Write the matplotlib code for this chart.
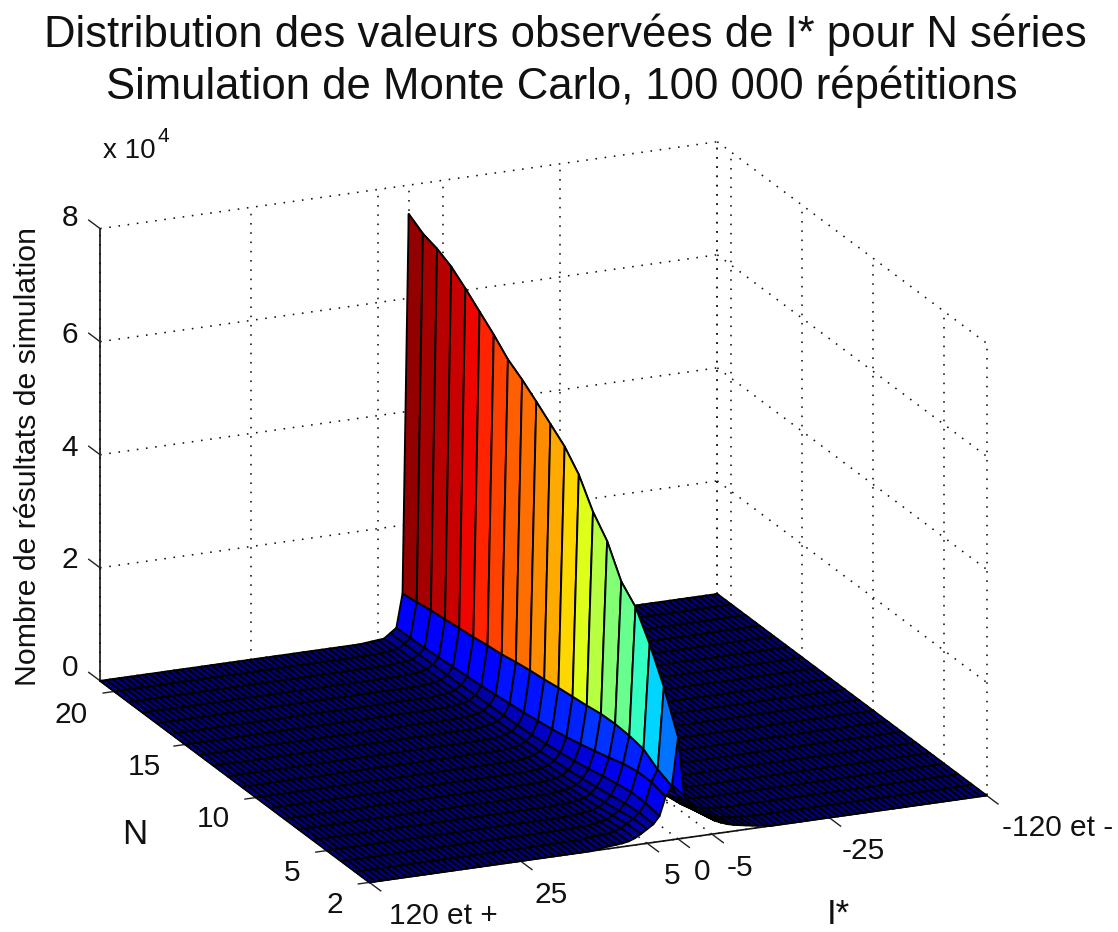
import numpy as np
import matplotlib
matplotlib.use("Agg")
import matplotlib.pyplot as plt
from mpl_toolkits.mplot3d import proj3d

plt.rcParams['font.family'] = ['Liberation Sans', 'DejaVu Sans']

W, H = 1118, 932

# ---------- data (values in units of 10^4) ----------
n_values = list(range(2, 22))
col_index = list(range(0, 101))
z_tick_values = [0, 2, 4, 6, 8]
n_tick_values = [2, 5, 10, 15, 20]
i_tick_index = [0, 24.5, 45, 50, 55.5, 74.5, 100]

peak_50 = [1.80, 2.50, 3.07, 3.54, 3.80, 4.33, 4.66, 5.13, 5.44, 5.65, 5.86, 6.06, 6.23, 6.48, 6.70, 6.92, 7.12, 7.25, 7.33, 7.49]
col_49 = [.95, 1.06, 1.23, 1.28, 1.30, 1.29, 1.25, 1.22, 1.19, 1.15, 1.12, 1.08, 1.03, 1.00, .96, .93, .90, .87, .83, .79]
col_48 = [.78, .85, .85, .80, .72, .65, .58, .52, .47, .43, .39, .36, .33, .30, .28, .26, .24, .22, .21, .20]
col_47 = [.45, .50, .50, .46, .41, .35, .30, .26, .23, .20, .18, .17, .16, .15, .14, .13, .13, .12, .12, .12]
col_46 = [.32, .34, .32, .27, .23, .19, .15, .13, .11, .10, .09, .08, .08, .07, .07, .06, .06, .05, .05, .04]
col_45 = [.25, .25, .20, .16, .13, .10, .08, .07, .06, .05, .05, .04, .04, .04, .03, .03, .03, .03, .03, .03]
col_44 = [.18, .17, .13, .09, .07, .05, .04, .03, .03, .03, .02, .02, .02, .02, .02, .02, .02, .02, .02, .02]
col_43 = [.12, .11, .08, .05, .04, .03, .02, .02, .01, .01, .01, .01, .01, .01, .01, .01, .01, .01, .01, .01]
col_42 = [.08, .07, .05, .03, .02, .02, .01, .01, .00, .00, .00, .00, .00, .00, .00, .00, .00, .00, .00, .00]
col_41 = [.06, .05, .03, .02, .01, .01, .00, .00, .00, .00, .00, .00, .00, .00, .00, .00, .00, .00, .00, .00]
col_40 = [.05, .04, .02, .01, .01, .00, .00, .00, .00, .00, .00, .00, .00, .00, .00, .00, .00, .00, .00, .00]
col_39 = [.04, .03, .01, .01, .00, .00, .00, .00, .00, .00, .00, .00, .00, .00, .00, .00, .00, .00, .00, .00]
col_38 = [.03, .02, .01, .00, .00, .00, .00, .00, .00, .00, .00, .00, .00, .00, .00, .00, .00, .00, .00, .00]
col_37 = [.02, .01, .00, .00, .00, .00, .00, .00, .00, .00, .00, .00, .00, .00, .00, .00, .00, .00, .00, .00]
col_51 = [.75, .78, .75, .72, .68, .65, .62, .58, .55, .52, .50, .47, .45, .43, .41, .39, .37, .35, .33, .32]
col_52 = [.60, .58, .55, .50, .45, .40, .36, .33, .30, .28, .26, .24, .22, .21, .20, .19, .18, .17, .16, .15]
col_53 = [.47, .44, .38, .33, .28, .24, .21, .19, .17, .15, .14, .13, .12, .11, .10, .09, .09, .08, .08, .07]
col_54 = [.38, .33, .26, .21, .17, .14, .12, .10, .09, .08, .07, .06, .06, .05, .05, .05, .04, .04, .04, .03]
col_55 = [.30, .24, .17, .13, .10, .08, .07, .06, .05, .05, .04, .04, .03, .03, .03, .03, .02, .02, .02, .02]
col_56 = [.23, .17, .11, .08, .06, .05, .04, .03, .03, .03, .02, .02, .02, .02, .02, .01, .01, .01, .01, .01]
col_57 = [.18, .12, .07, .05, .04, .03, .03, .02, .02, .02, .01, .01, .01, .01, .01, .01, .01, .01, .01, .01]
col_58 = [.14, .09, .05, .03, .03, .02, .02, .01, .01, .01, .01, .01, .00, .00, .00, .00, .00, .00, .00, .00]
col_59 = [.11, .06, .03, .02, .02, .01, .01, .01, .00, .00, .00, .00, .00, .00, .00, .00, .00, .00, .00, .00]
col_60 = [.09, .05, .02, .01, .01, .01, .00, .00, .00, .00, .00, .00, .00, .00, .00, .00, .00, .00, .00, .00]
col_61 = [.07, .03, .01, .01, .00, .00, .00, .00, .00, .00, .00, .00, .00, .00, .00, .00, .00, .00, .00, .00]
col_62 = [.05, .02, .01, .00, .00, .00, .00, .00, .00, .00, .00, .00, .00, .00, .00, .00, .00, .00, .00, .00]
col_63 = [.03, .01, .00, .00, .00, .00, .00, .00, .00, .00, .00, .00, .00, .00, .00, .00, .00, .00, .00, .00]
col_64 = [.02, .01, .00, .00, .00, .00, .00, .00, .00, .00, .00, .00, .00, .00, .00, .00, .00, .00, .00, .00]

columns = {37: col_37, 38: col_38, 39: col_39, 40: col_40, 41: col_41,
           42: col_42, 43: col_43, 44: col_44, 45: col_45, 46: col_46, 47: col_47, 48: col_48, 49: col_49,
           50: peak_50, 51: col_51, 52: col_52, 53: col_53, 54: col_54, 55: col_55, 56: col_56, 57: col_57,
           58: col_58, 59: col_59, 60: col_60, 61: col_61, 62: col_62, 63: col_63, 64: col_64}

Z = np.zeros((len(n_values), len(col_index)))
for c, vals in columns.items():
    Z[:, c] = vals
X, Y = np.meshgrid(col_index, n_values)

# ---------- figure and 3D axes ----------
fig = plt.figure(figsize=(W / 100, H / 100), dpi=100, facecolor='white')
S0 = 800.0
ax = fig.add_axes([0.1, 0.1, S0 / W, S0 / H], projection='3d', proj_type='ortho', computed_zorder=False)
ax.set_xlim(0, 100, view_margin=0)
ax.set_ylim(2, 21, view_margin=0)
ax.set_zlim(0, 8, view_margin=0)
ax.set_box_aspect((674, 678, 479))
ax.view_init(elev=18.94, azim=-113.45)
ax.set_axis_off()
ax.patch.set_alpha(0)

# place the box so that its corners sit where the reference has them
corners = [(0, 21, 0), (0, 2, 0), (100, 2, 0), (100, 21, 8), (0, 21, 8)]
targets = [(99.5, 680), (370, 882), (988, 795), (717, 145), (99, 227)]
M = ax.get_proj()
A, b = [], []
for (cx, cy, cz), (tx, ty) in zip(corners, targets):
    xd, yd, _ = proj3d.proj_transform(cx, cy, cz, M)
    u, v = ax.transAxes.inverted().transform(ax.transData.transform((xd, yd)))
    A.append([u, 1, 0]); b.append(tx)
    A.append([v, 0, 1]); b.append(H - ty)
S, ox, oy = np.linalg.lstsq(np.array(A), np.array(b), rcond=None)[0]
ax.set_position([ox / W, oy / H, S / W, S / H])

# ---------- grid ----------
dot = dict(color='#111111', lw=1.15, linestyle=(0, (1.0, 4.8)), zorder=1)
for z in z_tick_values:
    ax.plot([0, 100], [21, 21], [z, z], **dot)
    ax.plot([100, 100], [21, 2], [z, z], **dot)
for c in i_tick_index:
    ax.plot([c, c], [21, 21], [0, 8], **dot)
    ax.plot([c, c], [2, 21], [0, 0], **dot)
for n in n_tick_values + [21]:
    ax.plot([100, 100], [n, n], [0, 8], **dot)
    ax.plot([0, 100], [n, n], [0, 0], **dot)

# ---------- axes lines and ticks ----------
solid = dict(color='#111111', lw=1.2, zorder=1.5)
ax.plot([0, 0], [21, 21], [0, 8], **solid)
ax.plot([0, 100], [2, 2], [0, 0], **solid)
ax.plot([0, 0], [2, 21], [0, 0], **solid)
tick = dict(color='#222222', lw=1.0, zorder=1.5)
for z in z_tick_values:
    ax.plot([0, 0], [21, 21.8], [z, z], **tick)
for c in i_tick_index:
    ax.plot([c, c], [2, 1.2], [0, 0], **tick)
for n in n_tick_values:
    ax.plot([0, -1.8], [n, n], [0, 0], **tick)

# ---------- surface: far side of the ridge first, then the side facing the viewer ----------
cmap = plt.get_cmap('jet', 64)
norm = plt.Normalize(0, Z.max())
fc = np.zeros(Z.shape + (4,))
fc[:, :-1] = cmap(norm(Z[:, 1:]))
fc[:, -1] = cmap(0.0)
split = 50
for sl, zo in ((slice(split, None), 2.0), (slice(0, split + 1), 2.1)):
    surf = ax.plot_surface(X[:, sl], Y[:, sl], Z[:, sl], rstride=1, cstride=1, facecolors=fc[:, sl],
                           shade=False, linewidth=1.35, zorder=zo)
    surf.set_edgecolor('black')

# ---------- text ----------
TICK = 21.5
def label(px, py, s, size=TICK, **kw):
    fig.text(px / W, 1 - py / H, s, ha='center', va='center', fontsize=size, color='#111111', **kw)

label(565, 35, "Distribution des valeurs observées de I* pour N séries", size=31.4)
label(562, 87, "Simulation de Monte Carlo, 100 000 répétitions", size=31.4)
for y, s in zip([668, 560, 448, 335, 218], z_tick_values):
    label(70, y, str(s))
label(129, 151, "x 10", size=20)
label(163, 136, "4", size=15)
label(28, 456, "Nombre de résultats de simulation", rotation=90, size=21.8)
for (px, py), s in zip([(71, 715), (144, 767), (213, 819), (292, 873), (335, 905)], [20, 15, 10, 5, 2]):
    label(px, py, str(s))
label(135, 835, "N", size=25)
for (px, py), s in zip([(443, 916), (551, 895), (672, 876), (702, 872), (740, 868), (863, 851), (1058, 828)],
                       ["120 et +", "25", "5", "0", "-5", "-25", "-120 et -"]):
    label(px, py, s)
label(838, 914, "I*", size=25)

fig.savefig("out.png", dpi=100)
